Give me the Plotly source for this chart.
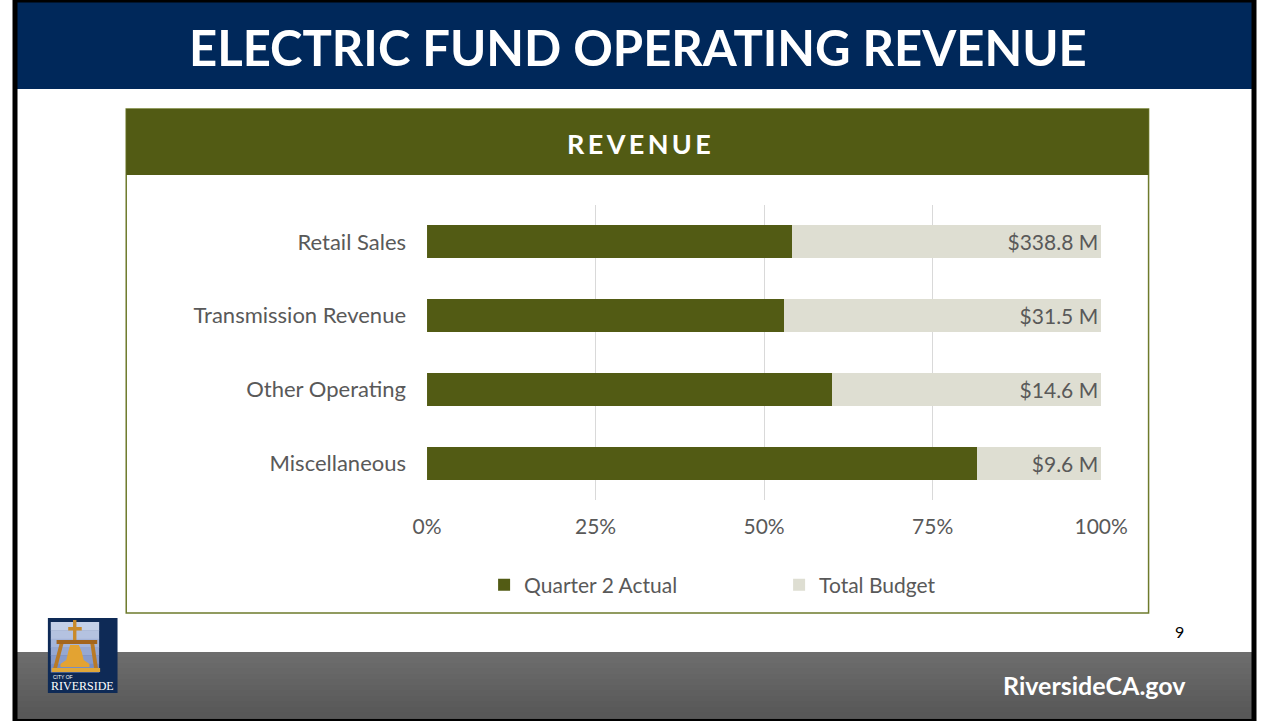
import plotly.graph_objects as go

W, H = 1281, 721

categories = ["Retail Sales", "Transmission Revenue", "Other Operating", "Miscellaneous"]
actual_pct = [54.2, 53.0, 60.1, 81.6]
remaining_pct = [45.8, 47.0, 39.9, 18.4]
budget_labels = ["$338.8 M", "$31.5 M", "$14.6 M", "$9.6 M"]
x_ticks = [0, 25, 50, 75, 100]
x_tick_labels = ["0%", "25%", "50%", "75%", "100%"]

OLIVE = "#525B14"
BUDGET = "#DEDED2"
GRAY_TXT = "#595959"
NAVY = "#00285A"
FONT = "Lato"


def px(x):
    return x / W


def py(y):
    return 1 - y / H


fig = go.Figure()
fig.add_trace(go.Bar(
    y=categories, x=actual_pct, orientation="h", name="Quarter 2 Actual",
    marker=dict(color=OLIVE, line=dict(width=0)), width=0.45,
    hoverinfo="skip",
))
fig.add_trace(go.Bar(
    y=categories, x=remaining_pct, orientation="h", name="Total Budget",
    marker=dict(color=BUDGET, line=dict(width=0)), width=0.45,
    text=budget_labels, textposition="inside", insidetextanchor="end",
    textangle=0, constraintext="none",
    textfont=dict(family=FONT, size=21, color=GRAY_TXT),
    hoverinfo="skip",
))

shapes = []


def rect(x0, y0, x1, y1, fill, line_color=None, lw=0, layer="below"):
    shapes.append(dict(
        type="rect", xref="paper", yref="paper",
        x0=px(x0), x1=px(x1), y0=py(y1), y1=py(y0),
        fillcolor=fill, layer=layer,
        line=dict(color=line_color or fill, width=lw),
    ))


def poly(points, fill, layer="above"):
    path = "M " + " L ".join(f"{px(x):.5f},{py(y):.5f}" for x, y in points) + " Z"
    shapes.append(dict(type="path", xref="paper", yref="paper", path=path,
                       fillcolor=fill, layer=layer, line=dict(width=0)))


# title bar
rect(0, 0, W, 89, NAVY)
# footer gradient band
n = 12
for i in range(n):
    y0 = 652 + i * (718 - 652) / n
    y1 = 652 + (i + 1) * (718 - 652) / n
    g = int(0x6d - (0x6d - 0x58) * i / (n - 1))
    rect(0, y0, W, y1 + 0.5, f"rgb({g},{g},{g})")
# chart panel
rect(115, 109, 1172, 613, "rgba(0,0,0,0)", line_color="#6E7B2C", lw=1.5)
rect(115, 109, 1172, 175, OLIVE)
# outer black border
shapes.append(dict(type="rect", xref="paper", yref="paper", x0=0, x1=1, y0=0, y1=1,
                   line=dict(color="black", width=5), fillcolor="rgba(0,0,0,0)", layer="above"))

# logo
rect(34, 618, 106, 693, "#0E2A56", layer="above")
for i in range(6):
    y0 = 622 + i * 50 / 6
    c0 = (196, 208, 232)
    c1 = (120, 142, 196)
    t = i / 5
    col = tuple(int(c0[k] + (c1[k] - c0[k]) * t) for k in range(3))
    rect(37, y0, 87, y0 + 50 / 6 + 0.5, f"rgb{col}", layer="above")
# cross
rect(60, 620, 63.5, 641, "#C98A2A", layer="above")
rect(55, 627, 69, 630.5, "#C98A2A", layer="above")
# frame top
rect(43, 640, 85, 644, "#A4651C", layer="above")
# legs
poly([(46, 644), (50, 644), (43, 670), (39, 670)], "#B97A26")
poly([(78, 644), (82, 644), (86, 670), (82, 670)], "#B97A26")
# base
rect(38, 668, 88, 672, "#E0A83A", layer="above")
# bell
poly([(57, 645), (66, 645), (69, 652), (71, 660), (77, 664), (77, 667), (47, 667), (47, 664), (53, 660), (55, 652)], "#E3A332")

annotations = [
    dict(text="<b>ELECTRIC FUND OPERATING REVENUE</b>", x=px(644), y=py(47),
         font=dict(family=FONT, size=49, color="white")),
    dict(text="<b>R\u2009E\u2009V\u2009E\u2009N\u2009U\u2009E</b>", x=px(645), y=py(143),
         font=dict(family=FONT, size=27, color="white")),
    dict(text="<b>RiversideCA.gov</b>", x=px(1213), y=py(685), xanchor="right",
         font=dict(family=FONT, size=25, color="white")),
    dict(text="9", x=px(1204), y=py(631),
         font=dict(family=FONT, size=16, color="black")),
    dict(text="CITY OF", x=px(37), y=py(677), xanchor="left",
         font=dict(family="Liberation Sans", size=5, color="white")),
    dict(text="RIVERSIDE", x=px(70), y=py(686),
         font=dict(family="Liberation Serif", size=12, color="white")),
]
for a in annotations:
    a.update(xref="paper", yref="paper", showarrow=False)
    a.setdefault("xanchor", "center")
    a.setdefault("yanchor", "middle")

fig.update_layout(
    width=W, height=H, margin=dict(l=0, r=0, t=0, b=0, pad=0),
    paper_bgcolor="white", plot_bgcolor="white",
    barmode="stack", bargap=0.55,
    shapes=shapes, annotations=annotations,
    font=dict(family=FONT, color=GRAY_TXT),
    xaxis=dict(domain=[px(426), px(1123)], range=[0, 100], tickvals=x_ticks,
               ticktext=x_tick_labels, showgrid=True, gridcolor="#D9D9D9", gridwidth=1,
               zeroline=False, showline=False, ticks="", ticklabelstandoff=12,
               tickfont=dict(family=FONT, size=21, color=GRAY_TXT), fixedrange=True),
    yaxis=dict(domain=[py(500), py(205)], autorange="reversed", showgrid=False,
               zeroline=False, showline=False, ticks="", ticklabelstandoff=20,
               tickfont=dict(family=FONT, size=22, color=GRAY_TXT), fixedrange=True),
    legend=dict(orientation="h", x=px(485), y=py(585), xanchor="left", yanchor="middle",
                entrywidth=250, entrywidthmode="pixels", traceorder="normal",
                font=dict(family=FONT, size=21, color=GRAY_TXT), bgcolor="rgba(0,0,0,0)"),
    showlegend=True,
)

post = ("document.documentElement.style.margin='0';document.body.style.margin='0';"
        "document.body.style.overflow='hidden';document.documentElement.style.overflow='hidden';")
fig.write_html("out.html", config={"displayModeBar": False}, post_script=post)
